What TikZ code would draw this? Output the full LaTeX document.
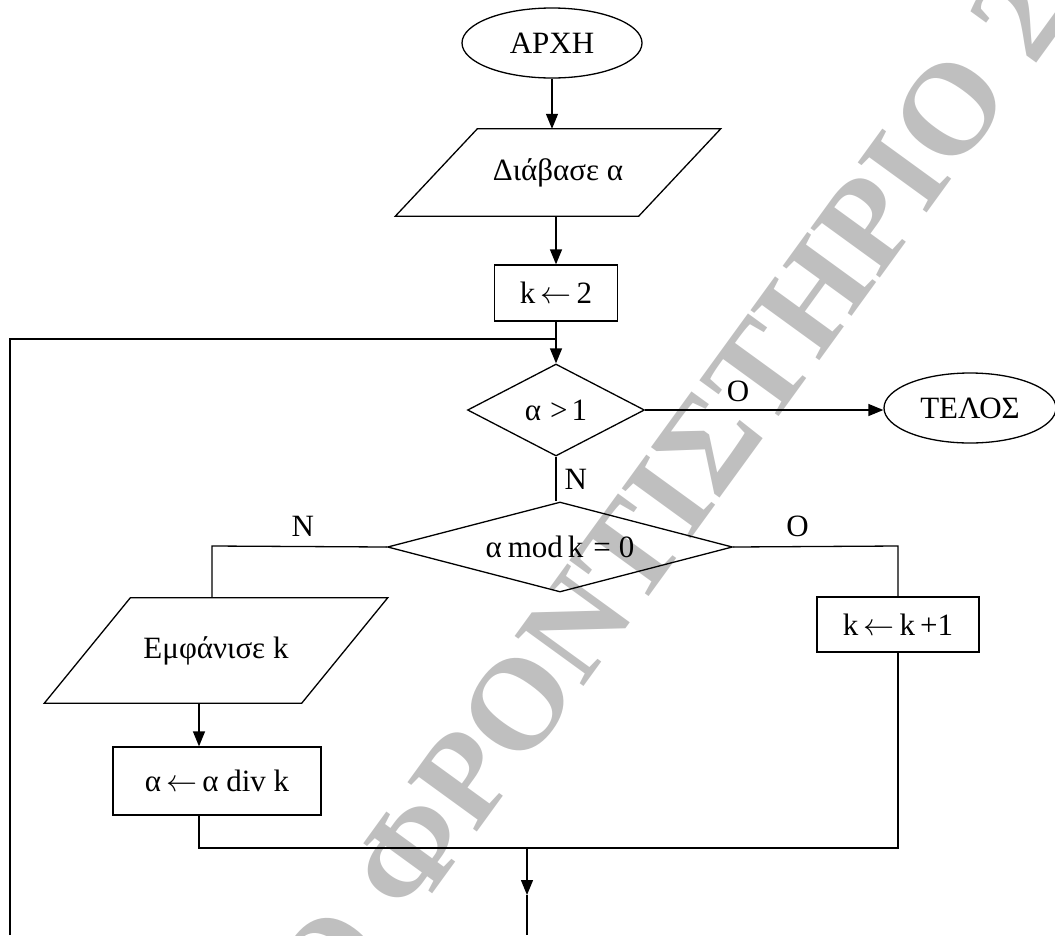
\documentclass[tikz,border=0pt]{standalone}
\usepackage{fix-cm}
\usepackage{fontspec}
\setmainfont{Liberation Serif}
\usetikzlibrary{shapes.geometric,arrows.meta,calc}

\newcommand{\assign}{\(\leftarrow\)}

\begin{document}
\begin{tikzpicture}[x=1pt,y=-1pt,
  every node/.style={font=\fontsize{31}{33}\selectfont},
  outline/.style={draw, line width=1.3pt, inner sep=0pt},
  terminal/.style={outline, ellipse},
  process/.style={outline, rectangle},
  decision/.style={outline, diamond, aspect=3},
  iobox/.style={rectangle, inner sep=0pt},
  line/.style={line width=1.3pt},
  flow/.style={line, -{Triangle[length=15pt,width=12pt]}},
  lbl/.style={inner sep=0pt},
  wmark/.style={inner sep=0pt, rotate=54, text=black!25,
    font=\bfseries\fontsize{130}{130}\selectfont}]
\useasboundingbox (0,0) rectangle (1055,935);

% watermark behind the chart
\node[wmark] (wm) at (679,483) {\llap{Ο\ }ΦΡΟΝΤΙΣΤΗΡΙΟ\rlap{\ 2}};

% blocks
\node[terminal, minimum width=180, minimum height=70] (start) at (552,43) {ΑΡΧΗ};
\node[iobox, minimum width=325, minimum height=87] (read) at (558,172.5) {Διάβασε α};
\node[process, minimum width=123, minimum height=56] (init) at (556,293) {k\,\assign\,2};
\node[decision, minimum width=177, minimum height=92] (cond1) at (556,410) {α\hspace{9pt}>\hspace{4pt}1};
\node[terminal, minimum width=172, minimum height=70] (end) at (970,408) {ΤΕΛΟΣ};
\node[decision, minimum width=345, minimum height=90] (cond2) at (560,547) {α\hspace{6pt}mod\hspace{5pt}k\hspace{10pt}=\hspace{8pt}0};
\node[iobox, minimum width=343, minimum height=105] (show) at (216,650.5) {Εμφάνισε k};
\node[process, minimum width=208, minimum height=68] (calc) at (217,781) {α\,\assign\,α div k};
\node[process, minimum width=162, minimum height=55] (inc) at (898,624.5) {k\,\assign\,k\,+1};

% parallelogram outlines of the input/output blocks
\draw[line] (read.south west) -- ($(read.north west)+(82,0)$) -- (read.north east)
  -- ($(read.south east)+(-82,0)$) -- cycle;
\draw[line] (show.south west) -- ($(show.north west)+(86,0)$) -- (show.north east)
  -- ($(show.south east)+(-86,0)$) -- cycle;

% bends and free ends
\coordinate (looptop) at (10,339);
\coordinate (loopend) at (10,935);
\coordinate (nturn) at (212,546);
\coordinate (oturn) at (898,546);
\coordinate (colx) at (199,848);
\coordinate (merge) at (527,848);
\coordinate (mtip) at (527,895);
\coordinate (mend) at (527,935);

% connectors
\draw[flow] (start.south) -- (start.south |- read.north);
\draw[flow] (init.north |- read.south) -- (init.north);
\draw[flow] (init.south) -- (cond1.north);
\draw[line] (loopend) -- (looptop) -- (looptop -| init.south);
\draw[flow] (cond1.east) -- node[lbl, above=8pt, pos=0.39] {Ο} (cond1.east -| end.west);
\draw[line] (cond1.south) -- node[lbl, right=8pt] {N} (cond1.south |- cond2.north);
\draw[line] (cond2.west) -- node[lbl, above=9pt, pos=0.48] {N} (nturn) -- (nturn |- show.north);
\draw[flow] (show.south -| colx) -- (calc.north -| colx);
\draw[line] (calc.south -| colx) -- (colx) -- (merge);
\draw[line] (cond2.east) -- node[lbl, above=9pt, pos=0.39] {Ο} (oturn) -- (inc.north);
\draw[line] (inc.south) -- (inc.south |- merge) -- (merge);
\draw[flow] (merge) -- (mtip);
\draw[line] (mtip) -- (mend);
\end{tikzpicture}
\end{document}
